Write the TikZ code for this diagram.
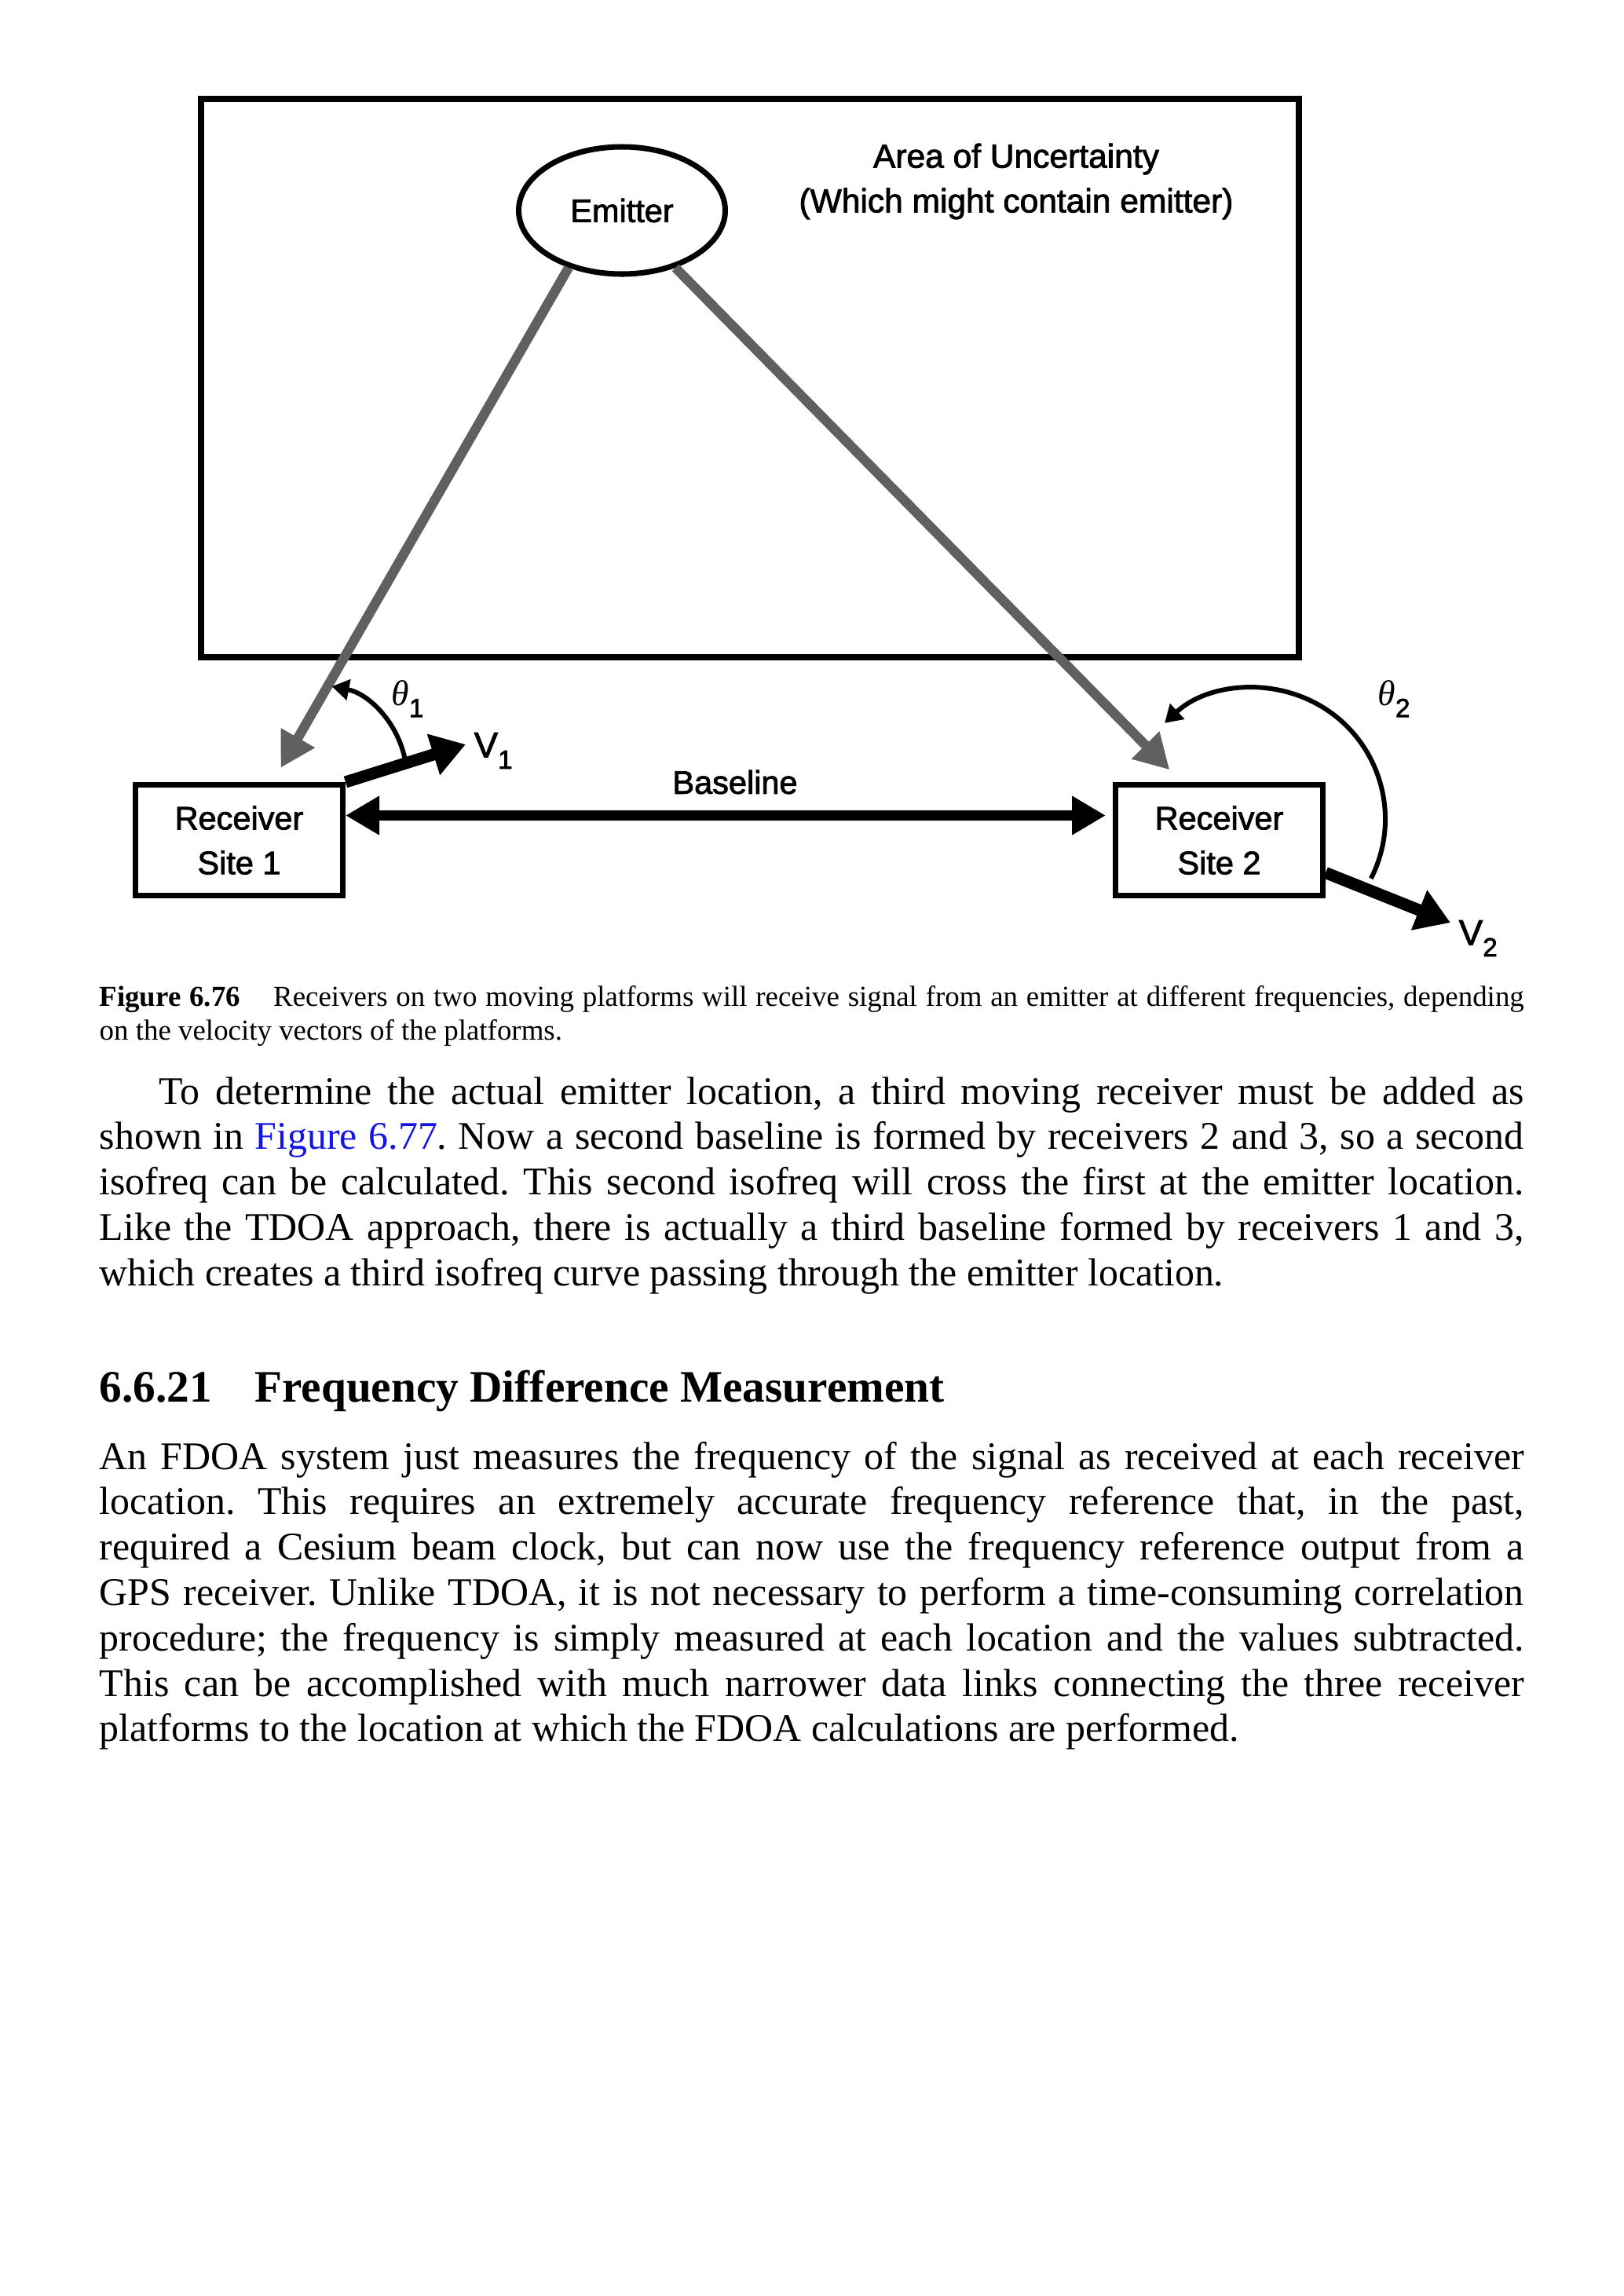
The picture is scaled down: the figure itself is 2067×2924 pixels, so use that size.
\documentclass[tikz,border=0pt]{standalone}
\usepackage{fontspec}
\setmainfont{Liberation Serif}
\newfontfamily\diagfont[FakeBold=2]{Liberation Sans}
\usetikzlibrary{arrows.meta,positioning,shapes.geometric,calc}
\definecolor{sigray}{RGB}{96,96,96}
\definecolor{linkblue}{RGB}{20,20,230}
\frenchspacing
\newcommand{\lowsub}[1]{\raisebox{-0.6ex}{\fontsize{9.5}{10}\selectfont#1}}

\begin{document}
\begin{tikzpicture}[x=0.1mm,y=0.1mm,
lbl/.style={font=\diagfont\fontsize{11.8}{16.2}\selectfont,align=center,inner sep=0pt},
rxbox/.style={draw,line width=2pt,minimum width=26.4mm,minimum height=14.1mm,lbl},
sig/.style={draw=sigray,line width=3.5pt,-{Triangle[length=4.4mm,width=4.7mm]}},
bline/.style={line width=3.8pt,{Triangle[length=4.3mm,width=4.7mm]}-{Triangle[length=4.3mm,width=4.7mm]}},
vel/.style={line width=4.3pt,-{Triangle[length=4.3mm,width=5.2mm]}},
ang/.style={line width=1.7pt,-{Triangle[length=2.2mm,width=2.6mm]}},
body/.style={font=\fontsize{14.2}{16.45}\selectfont,text width=181.4mm,align=justify,inner sep=0pt,anchor=base west}]
\useasboundingbox (0,0) rectangle (2067,-2924);
\fill[white] (0,0) rectangle (2067,-2924);
% figure
\node[draw,line width=2.2pt,minimum width=139.8mm,minimum height=71.1mm,inner sep=0pt] (aou) at (955,-481.5) {};
\node[lbl,font=\diagfont\fontsize{12.1}{16.2}\selectfont] (aoutxt) at (1294,-231) {Area of Uncertainty\\(Which might contain emitter)};
\node[ellipse,draw,line width=2pt,minimum width=26.3mm,minimum height=16.2mm,lbl] (emitter) at (792,-268) {Emitter};
\node[rxbox] (rx1) at (304.5,-1070) {Receiver\\Site 1};
\node[rxbox] (rx2) at (1552.5,-1070) {Receiver\\Site 2};
\draw[sig,shorten >=2.1mm] (emitter.227) -- (rx1);
\draw[sig,shorten >=2.2mm] (emitter.313) -- ($(rx2.north west)!0.324!(rx2.north east)$);
\draw[bline,shorten >=0.9mm] ([yshift=3.15mm]rx1.east) -- ([yshift=3.15mm]rx2.west);
\node[lbl] (base) at (936,-996) {Baseline};
% velocity vectors and angles
\coordinate (v1) at (593,-948);
\coordinate (v2) at (1847,-1175);
\draw[vel] (rx1.north east) -- (v1);
\draw[vel] (rx2.-17) -- (v2);
\node[lbl,font=\diagfont\fontsize{13}{14}\selectfont,right=1mm of v1,yshift=-0.8mm] (v1lbl) {V\lowsub{1}};
\node[lbl,font=\diagfont\fontsize{13}{14}\selectfont,right=1mm of v2,yshift=-2mm] (v2lbl) {V\lowsub{2}};
\coordinate (th1) at (515.8,-967.5);
\coordinate (th2) at (1745.8,-1118.8);
\draw[ang] (th1) arc[start angle=11,end angle=79,radius=118];
\draw[ang] (th2) arc[start angle=-27,end angle=133,radius=167];
\node[lbl,font=\diagfont\fontsize{13}{14}\selectfont] (th1lbl) at (519,-890) {{\rmfamily\itshape θ}\lowsub{1}};
\node[lbl,font=\diagfont\fontsize{13}{14}\selectfont] (th2lbl) at (1775,-890) {{\rmfamily\itshape θ}\lowsub{2}};
% caption and text
\node[body,font=\fontsize{10.5}{12.5}\selectfont] (cap) at (126,-1281) {\textbf{Figure 6.76}\hspace{12pt}Receivers on two moving platforms will receive signal from an emitter at different frequencies, depending\linebreak on the velocity vectors of the platforms.};
\node[body] (para1) at (126,-1406) {\hspace*{7.6mm}To determine the actual emitter location, a third moving receiver must be added as\linebreak shown in \textcolor{linkblue}{Figure 6.77}. Now a second baseline is formed by receivers 2 and 3, so a second\linebreak isofreq can be calculated. This second isofreq will cross the first at the emitter location.\linebreak Like the TDOA approach, there is actually a third baseline formed by receivers 1 and 3,\linebreak which creates a third isofreq curve passing through the emitter location.};
\node[body,font=\bfseries\fontsize{16.3}{18}\selectfont] (sec) at (126,-1785) {6.6.21\hspace{15.5pt}Frequency Difference Measurement};
\node[body] (para2) at (126,-1871) {An FDOA system just measures the frequency of the signal as received at each receiver\linebreak location. This requires an extremely accurate frequency reference that, in the past,\linebreak required a Cesium beam clock, but can now use the frequency reference output from a\linebreak GPS receiver. Unlike TDOA, it is not necessary to perform a time-consuming correlation\linebreak procedure; the frequency is simply measured at each location and the values subtracted.\linebreak This can be accomplished with much narrower data links connecting the three receiver\linebreak platforms to the location at which the FDOA calculations are performed.};
\end{tikzpicture}
\end{document}
